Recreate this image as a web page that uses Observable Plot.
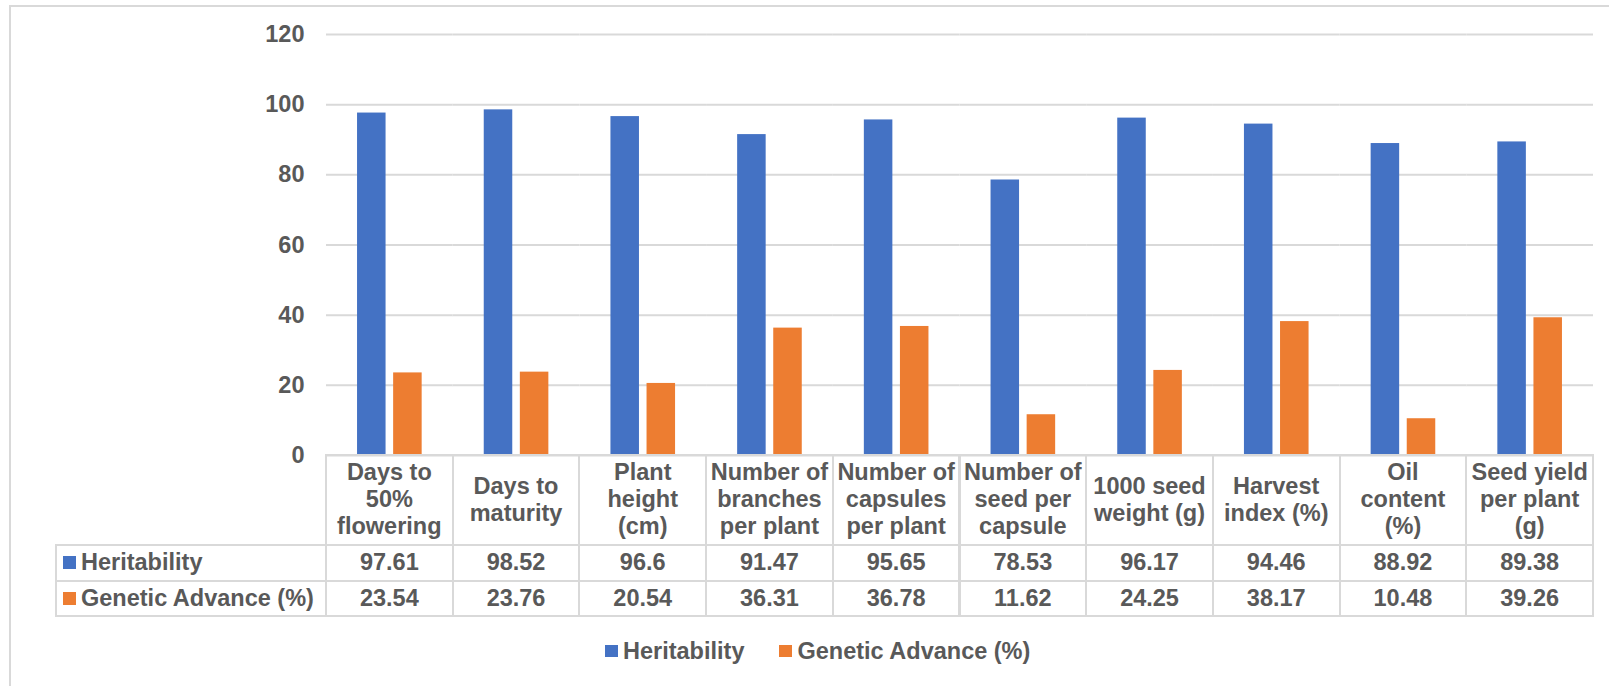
<!DOCTYPE html>
<html>
<head>
<meta charset="utf-8">
<script src="https://cdn.jsdelivr.net/npm/d3@7"></script>
<script src="https://cdn.jsdelivr.net/npm/@observablehq/plot@0.6"></script>
<style>
  html, body { margin: 0; padding: 0; background: #fff; width: 1609px; height: 686px; overflow: hidden; }
  #frame { position: absolute; left: 9px; top: 5px; width: 1640px; height: 720px; border: 2px solid #d9d9d9; box-sizing: border-box; }
  #chart { position: absolute; left: 0; top: 0; }
  .cell { position: absolute; box-sizing: border-box; border: 2px solid #d9d9d9; display: flex; align-items: center; justify-content: center; text-align: center;
          font: bold 23.5px "Liberation Sans", Arial, sans-serif; color: #595959; line-height: 27px; white-space: nowrap; }
  .label { justify-content: flex-start; padding-left: 6px; }
  .key { display: inline-block; width: 13px; height: 13px; margin-right: 5px; flex: none; }
  #legend { position: absolute; left: 605px; top: 639px; height: 24px; display: flex; align-items: center;
            font: bold 23.5px "Liberation Sans", Arial, sans-serif; color: #595959; line-height: 24px; white-space: nowrap; }
  #legend .sw { display: inline-block; width: 12.5px; height: 12.5px; margin-right: 5.5px; }
  #legend .item { display: flex; align-items: center; margin-right: 35px; }
</style>
</head>
<body>
<div id="frame"></div>
<div id="chart"></div>
<div id="table"></div>
<div id="legend"></div>
<script>
const categories = [
  "Days to 50% flowering", "Days to maturity", "Plant height (cm)", "Number of branches per plant",
  "Number of capsules per plant", "Number of seed per capsule", "1000 seed weight (g)",
  "Harvest index (%)", "Oil content (%)", "Seed yield per plant (g)"
];
const headerLines = [
  ["Days to", "50%", "flowering"], ["Days to", "maturity"], ["Plant", "height", "(cm)"],
  ["Number of", "branches", "per plant"], ["Number of", "capsules", "per plant"],
  ["Number of", "seed per", "capsule"], ["1000 seed", "weight (g)"], ["Harvest", "index (%)"],
  ["Oil", "content", "(%)"], ["Seed yield", "per plant", "(g)"]
];
const series = ["Heritability", "Genetic Advance (%)"];
const heritability = [97.61, 98.52, 96.6, 91.47, 95.65, 78.53, 96.17, 94.46, 88.92, 89.38];
const geneticAdvance = [23.54, 23.76, 20.54, 36.31, 36.78, 11.62, 24.25, 38.17, 10.48, 39.26];
const colors = ["#4472C4", "#ED7D31"];
const yTicks = [0, 20, 40, 60, 80, 100, 120];

const data = categories.flatMap((c, i) => [
  {category: c, series: series[0], value: heritability[i]},
  {category: c, series: series[1], value: geneticAdvance[i]}
]);

const chart = Plot.plot({
  width: 1609,
  height: 460,
  marginLeft: 326,
  marginRight: 16,
  marginTop: 34,
  marginBottom: 5,
  style: {fontFamily: "'Liberation Sans', Arial, sans-serif", fontSize: "23.5px", fontWeight: "bold", color: "#595959", background: "transparent", overflow: "visible"},
  fx: {domain: categories, padding: 0, round: false, axis: null},
  x: {domain: series, paddingInner: 0.21, paddingOuter: 0.86, round: false, axis: null},
  y: {domain: [0, 120], axis: null},
  color: {domain: series, range: colors},
  marks: [
    Plot.gridY(yTicks, {stroke: "#d9d9d9", strokeOpacity: 1, strokeWidth: 2}),
    Plot.axisY(yTicks, {tickSize: 0, tickPadding: 22, label: null, fill: "#595959", fontSize: 23.5, fontWeight: "bold"}),
    Plot.barY(data, {fx: "category", x: "series", y: "value", fill: "series"})
  ]
});
document.getElementById("chart").appendChild(chart);

// Data table aligned to the chart's fx scale
const fx = chart.scale("fx");
const y = chart.scale("y");
const table = document.getElementById("table");
const top0 = y.apply(0);
const rows = [
  {top: top0, h: 89.5},
  {top: top0 + 89.5, h: 36},
  {top: top0 + 125.5, h: 35.5}
];
function cell(left, top, w, h, html, cls) {
  const d = document.createElement("div");
  d.className = "cell" + (cls ? " " + cls : "");
  d.style.left = (left - 1) + "px";
  d.style.top = (top - 1) + "px";
  d.style.width = (w + 2) + "px";
  d.style.height = (h + 2) + "px";
  d.innerHTML = html;
  table.appendChild(d);
  return d;
}
const bw = fx.bandwidth;
const labelLeft = 56;
const plotLeft = fx.apply(categories[0]);
categories.forEach((c, i) => {
  const x0 = fx.apply(c);
  cell(x0, rows[0].top, bw, rows[0].h, headerLines[i].join("<br>"));
  cell(x0, rows[1].top, bw, rows[1].h, String(heritability[i]));
  cell(x0, rows[2].top, bw, rows[2].h, String(geneticAdvance[i]));
});
[heritability, geneticAdvance].forEach((_, k) => {
  const r = rows[k + 1];
  cell(labelLeft, r.top, plotLeft - labelLeft, r.h,
    `<span class="key" style="background:${colors[k]}"></span>${series[k]}`, "label");
});

// Legend
const legend = document.getElementById("legend");
series.forEach((s, k) => {
  const it = document.createElement("span");
  it.className = "item";
  it.innerHTML = `<span class="sw" style="background:${colors[k]}"></span>${s}`;
  legend.appendChild(it);
});
</script>
</body>
</html>
